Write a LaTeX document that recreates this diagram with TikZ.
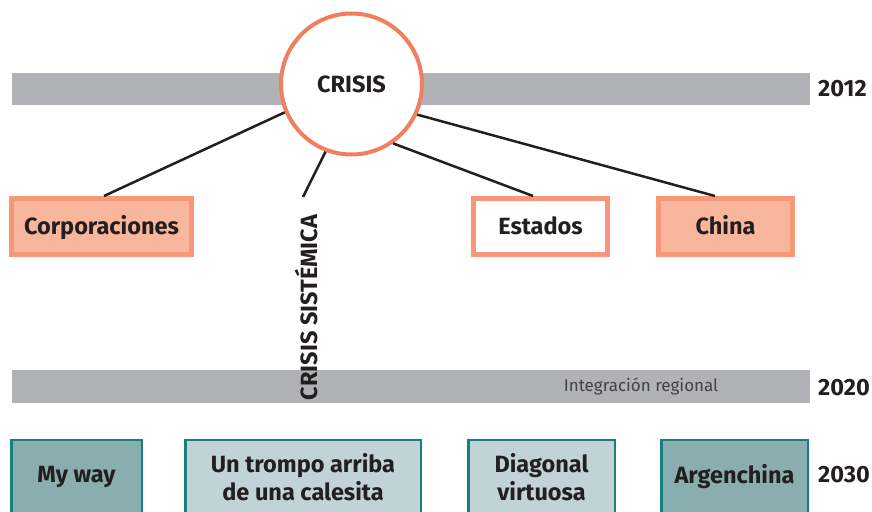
\documentclass[tikz,border=0pt]{standalone}
\usepackage{fontspec}
\setmainfont{Fira Sans}
\usepackage{xcolor}
\usepackage{tikz}
\usetikzlibrary{positioning, backgrounds}
\definecolor{ink}{HTML}{231F20}
\definecolor{barGray}{HTML}{B1B2B5}
\definecolor{crisisRed}{HTML}{F07E5F}
\definecolor{salmonEdge}{HTML}{F6977A}
\definecolor{salmonFill}{HTML}{F8B69C}
\definecolor{tealEdge}{HTML}{17807E}
\definecolor{tealDark}{HTML}{8AADB0}
\definecolor{tealLight}{HTML}{C2D3D8}
\tikzset{
	every node/.style={text=ink, font=\bfseries\fontsize{23.5}{27}\selectfont}, % bold labels everywhere
	bar/.style={fill=barGray, inner sep=0pt, minimum width=798pt, minimum height=32pt}, % the grey timeline bands
	year/.style={anchor=west, inner sep=0pt, font=\bfseries\fontsize{23.5}{27}\selectfont}, % the year on the right
	actor/.style={draw=salmonEdge, line width=5pt, minimum height=56pt, text height=16.2pt, text depth=0pt}, % salmon boxes
	scenario/.style={draw=tealEdge, line width=2.5pt, minimum height=74pt, align=center, font=\bfseries\fontsize{23.5}{28}\selectfont}, % teal boxes
	link/.style={draw=ink, line width=2.5pt}, % lines from the circle
}
\begin{document}
\begin{tikzpicture}[x=1pt, y=-1pt, node distance=8pt]
	\fill[white] (0,0) rectangle (872,511);
	\useasboundingbox (0,0) rectangle (872,511);
	\clip (0,0) rectangle (872,511);

	% Timeline
	\node[bar] (bar12) at (411,89) {};
	\node[bar, minimum height=33pt] (bar20) at (411,386.5) {};
	\node[year] (y12) at (818,89) {2012};
	\node[year] (y20) at (818,388) {2020};
	\node[year] (y30) at (818,475) {2030};
	\node[font=\fontsize{17}{20}\selectfont, text=ink!85] (integ) at (641,386) {Integración regional};

	% Crisis and actors
	\node[circle, draw=crisisRed, fill=white, line width=4pt, minimum size=141pt] (crisis) at (351.5,84) {CRISIS};
	\node[actor, fill=salmonFill, minimum width=180pt] (corp) at (101.5,226.5) {Corporaciones};
	\node[actor, fill=white, minimum width=134pt, right=439pt of corp.center, anchor=center] (estados) {Estados};
	\node[actor, fill=salmonFill, minimum width=134pt, right=185pt of estados.center, anchor=center] (china) {China};
	\node[rotate=90] (sist) at (306,307.5) {CRISIS SISTÉMICA};
	\coordinate (sisttop) at (303,197);

	% Lines
	\path
	(crisis.-157) edge[link] ([xshift=2.5pt]corp.north)
	(crisis.-111) edge[link] (sisttop)
	(crisis.-55) edge[link] ([xshift=-7.5pt]estados.north)
	(crisis.-25) edge[link] ([xshift=-10.5pt]china.north);

	% Scenarios 2030
	\node[scenario, fill=tealDark, minimum width=130.5pt] (myway) at (76.5,477) {My way};
	\node[scenario, fill=tealLight, minimum width=235.5pt, right=226.5pt of myway.center, anchor=center] (trompo) {Un trompo arriba\\de una calesita};
	\node[scenario, fill=tealLight, minimum width=146.5pt, right=238.5pt of trompo.center, anchor=center] (diagonal) {Diagonal\\virtuosa};
	\node[scenario, fill=tealDark, minimum width=146.5pt, right=193pt of diagonal.center, anchor=center] (argen) {Argenchina};
	\begin{scope}[on background layer]
		\draw[barGray, line width=8pt] (myway) -- (argen);
	\end{scope}
\end{tikzpicture}
\end{document}
